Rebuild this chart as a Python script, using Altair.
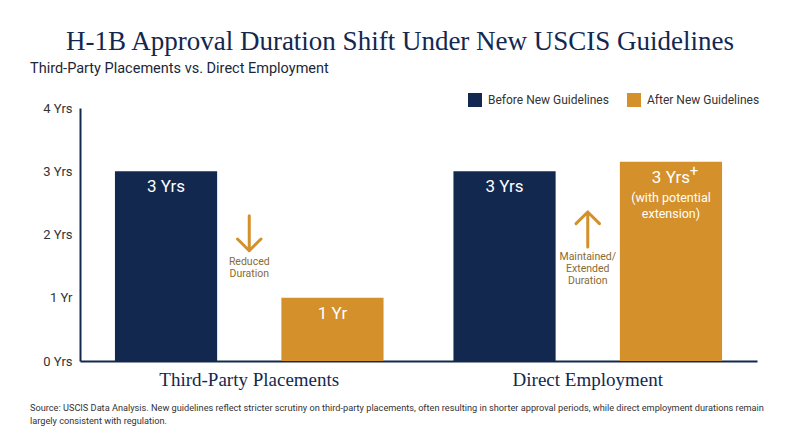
import altair as alt
import pandas as pd

# ---- data ----
categories = ["Third-Party Placements", "Direct Employment"]
periods = ["Before New Guidelines", "After New Guidelines"]
before_values = [3.0, 3.0]
after_values = [1.0, 3.15]
before_labels = ["3 Yrs", "3 Yrs"]
after_labels = ["1 Yr", "3 Yrs"]
after_sups = ["", "+"]
after_notes = ["", "(with potential\nextension)"]
y_ticks = [0, 1, 2, 3, 4]

ann_categories = ["Third-Party Placements", "Direct Employment"]
ann_texts = ["Reduced\nDuration", "Maintained/\nExtended\nDuration"]
ann_shapes = ["down", "up"]
ann_arrow_y = [2.02, 2.08]
ann_text_y = [1.65, 1.72]

title_text = "H-1B Approval Duration Shift Under New USCIS Guidelines"
subtitle_text = "Third-Party Placements vs. Direct Employment"
footer_lines = [
    "Source: USCIS Data Analysis. New guidelines reflect stricter scrutiny on third-party placements, often resulting in shorter approval periods, while direct employment durations remain",
    "largely consistent with regulation.",
]

NAVY = "#13284f"
ORANGE = "#d4902a"
ANN = "#8a6a34"
SANS = "Roboto, sans-serif"
SERIF = "'Liberation Serif', serif"

rows = []
for i, c in enumerate(categories):
    rows.append(dict(category=c, period=periods[0], value=before_values[i],
                     label=before_labels[i], sup="", note=""))
    rows.append(dict(category=c, period=periods[1], value=after_values[i],
                     label=after_labels[i], sup=after_sups[i], note=after_notes[i]))
df = pd.DataFrame(rows)

ann = pd.DataFrame(dict(category=ann_categories, text=ann_texts, shape=ann_shapes,
                        ay=ann_arrow_y, ty=ann_text_y))

W, H = 677, 253
X0, Y0 = 80, 108

x_enc = alt.X("category:N", sort=categories,
              scale=alt.Scale(domain=categories, paddingInner=0, paddingOuter=0),
              axis=alt.Axis(title=None, labelAngle=0, labelFont=SERIF, labelFontSize=19,
                            labelColor=NAVY, labelPadding=9, ticks=False,
                            domainColor=NAVY, domainWidth=2))
xo_enc = alt.XOffset("period:N", sort=periods,
                     scale=alt.Scale(domain=periods, paddingInner=0.386, paddingOuter=0.21))
y_enc = alt.Y("value:Q", scale=alt.Scale(domain=[0, 4], nice=False),
              axis=alt.Axis(title=None, values=y_ticks, grid=False, ticks=False,
                            labelExpr="datum.value == 1 ? '1 Yr' : datum.value + ' Yrs'",
                            labelFont=SANS, labelFontSize=13, labelColor="#333333",
                            labelPadding=8, domainColor=NAVY, domainWidth=2))

bars = alt.Chart(df).mark_bar().encode(
    x=x_enc, xOffset=xo_enc, y=y_enc,
    color=alt.Color("period:N", sort=periods,
                    scale=alt.Scale(domain=periods, range=[NAVY, ORANGE]),
                    legend=alt.Legend(title=None, orient="none", direction="horizontal",
                                      legendX=388, legendY=-15, symbolType="square",
                                      symbolSize=196, symbolStrokeWidth=0, symbolOpacity=1,
                                      labelFont=SANS, labelFontSize=12, labelColor="#333333",
                                      labelOffset=6, columnPadding=18, padding=0)),
)

labels = alt.Chart(df).mark_text(baseline="top", dy=8, fontSize=17, color="white",
                                 font=SANS).encode(
    x=x_enc, xOffset=xo_enc, y=y_enc, text="label:N")

sups = alt.Chart(df).transform_filter("datum.sup != ''").mark_text(
    baseline="top", dx=23, dy=2, fontSize=15, color="white", font=SANS).encode(
    x=x_enc, xOffset=xo_enc, y=y_enc, text="sup:N")

notes = alt.Chart(df).transform_filter("datum.note != ''").mark_text(
    baseline="top", dy=30, fontSize=12.5, lineHeight=16, lineBreak="\n",
    color="white", font=SANS).encode(
    x=x_enc, xOffset=xo_enc, y=y_enc, text="note:N")

down_path = "M0,-1L0,1M-0.67,0.33L0,1L0.67,0.33"
up_path = "M0,1L0,-1M-0.67,-0.33L0,-1L0.67,-0.33"

arrow_base = alt.Chart(ann).transform_calculate(value="datum.ay")
arrows_down = arrow_base.transform_filter("datum.shape == 'down'").mark_point(
    shape=down_path, size=1225, filled=False, stroke=ORANGE, strokeWidth=3,
    opacity=1, strokeCap="round", strokeJoin="round").encode(x=x_enc, y=y_enc)
arrows_up = arrow_base.transform_filter("datum.shape == 'up'").mark_point(
    shape=up_path, size=1225, filled=False, stroke=ORANGE, strokeWidth=3,
    opacity=1, strokeCap="round", strokeJoin="round").encode(x=x_enc, y=y_enc)

ann_text = alt.Chart(ann).transform_calculate(value="datum.ty").mark_text(
    baseline="top", fontSize=10.5, lineHeight=12, lineBreak="\n", color=ANN,
    font=SANS).encode(x=x_enc, y=y_enc, text="text:N")

tdf = pd.DataFrame(dict(t=[title_text]))
title = alt.Chart(tdf).mark_text(fontSize=27, font=SERIF, color=NAVY, baseline="middle",
                                 align="center").encode(
    x=alt.value(400 - X0), y=alt.value(42 - Y0), text="t:N")
sdf = pd.DataFrame(dict(t=[subtitle_text]))
subtitle = alt.Chart(sdf).mark_text(fontSize=14.5, font=SANS, color="#1c2638",
                                    baseline="middle", align="left").encode(
    x=alt.value(30 - X0), y=alt.value(69 - Y0), text="t:N")
fdf = pd.DataFrame(dict(t=["\n".join(footer_lines)]))
footer = alt.Chart(fdf).mark_text(
    fontSize=9.2, font=SANS, color="#333333", baseline="top", align="left",
    lineBreak="\n", lineHeight=13).encode(
    x=alt.value(30 - X0), y=alt.value(404 - Y0), text="t:N")

chart = alt.layer(bars, labels, sups, notes, arrows_down, arrows_up, ann_text,
                  title, subtitle, footer).properties(
    width=W, height=H, background="white",
    padding={"left": X0 - 8, "top": Y0 - 8, "right": 35, "bottom": 78},
    autosize=alt.AutoSizeParams(type="none"),
).configure_view(strokeWidth=0, stroke="transparent")

chart.save("out.html", embed_options={"renderer": "svg", "actions": False})
